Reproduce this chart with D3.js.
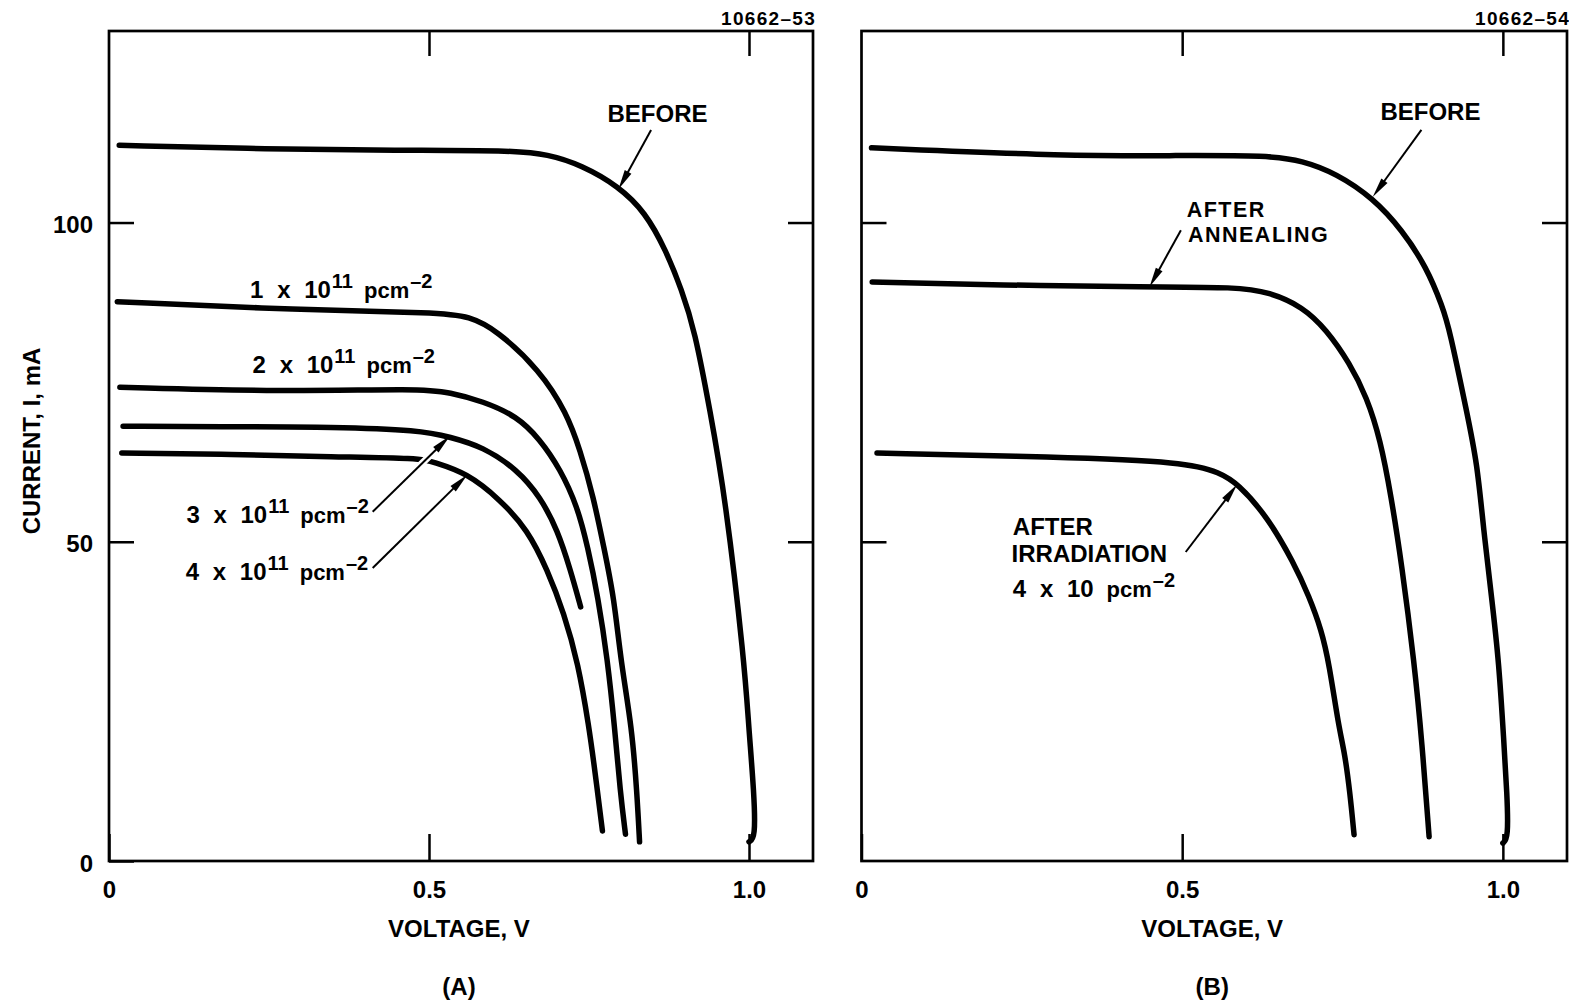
<!DOCTYPE html>
<html>
<head>
<meta charset="utf-8">
<script src="https://cdn.jsdelivr.net/npm/d3@7"></script>
<style>
  body { margin: 0; background: #fff; }
  svg text { font-family: "Liberation Sans", Arial, Helvetica, sans-serif; font-weight: bold; fill: #000; }
</style>
</head>
<body>
<svg id="chart" width="1569" height="1002"></svg>
<script>
// ---- Axes ----
const X_DOMAIN = [0, 1.1];          // voltage, V
const Y_DOMAIN = [0, 130];          // current, mA
const xTickValues = [0, 0.5, 1.0];
const yTickValues = [0, 50, 100];

// ---- Panel (A): I–V curves before and after proton fluences, [V, mA] ----
const curveBeforeA = [[0.016,112.1],[0.25,111.5],[0.45,111.3],[0.628,111.3],[0.686,110.7],[0.738,109.0],[0.796,105.7],[0.838,101.6],[0.870,95.7],[0.895,89.4],[0.915,83.2],[0.939,70.6],[0.963,57.0],[0.993,31.0],[0.9995,21.0],[1.008,10.6],[1.010,3.6],[1.0,3.0]];
const curveDose1 = [[0.013,87.6],[0.297,86.3],[0.516,85.9],[0.563,85.3],[0.605,83.2],[0.673,76.9],[0.715,70.2],[0.736,64.4],[0.757,57.0],[0.773,49.2],[0.789,41.4],[0.800,31.0],[0.817,21.0],[0.825,10.6],[0.829,3.0]];
const curveDose2 = [[0.017,74.2],[0.271,73.5],[0.486,74.0],[0.533,73.4],[0.584,72.0],[0.637,69.7],[0.673,66.1],[0.705,61.4],[0.732,55.5],[0.748,49.2],[0.764,41.4],[0.779,31.5],[0.790,21.0],[0.799,10.6],[0.807,4.2]];
const curveDose3 = [[0.022,68.1],[0.194,68.0],[0.350,68.0],[0.486,67.5],[0.533,66.4],[0.584,64.9],[0.638,61.3],[0.674,57.0],[0.701,51.8],[0.721,45.6],[0.737,39.8]];
const curveDose4 = [[0.020,63.9],[0.194,63.7],[0.350,63.3],[0.486,63.1],[0.506,62.5],[0.559,60.8],[0.611,56.6],[0.654,51.9],[0.685,45.6],[0.711,38.8],[0.733,31.0],[0.750,21.0],[0.759,14.3],[0.771,4.7]];

// ---- Panel (B): before, after irradiation, after annealing, [V, mA] ----
const curveBeforeB = [[0.0156,111.7],[0.323,110.4],[0.4945,110.5],[0.635,110.5],[0.687,109.7],[0.740,107.7],[0.798,103.8],[0.843,98.8],[0.881,93.0],[0.906,86.8],[0.917,83.2],[0.944,70.2],[0.960,62.3],[0.970,51.8],[0.9825,41.3],[0.994,31.0],[1.0016,18.5],[1.0065,10.6],[1.0086,3.6],[1.0,2.8]];
const curveAnnealed = [[0.0167,90.7],[0.215,90.2],[0.449,89.9],[0.585,89.9],[0.636,89.1],[0.688,86.8],[0.725,83.2],[0.761,78.0],[0.788,72.6],[0.809,66.0],[0.826,57.0],[0.842,46.7],[0.862,31.0],[0.874,18.5],[0.885,3.8]];
const curveIrradiated = [[0.0242,63.9],[0.299,63.3],[0.508,62.5],[0.559,60.8],[0.586,59.2],[0.633,53.9],[0.674,46.7],[0.698,41.4],[0.717,36.2],[0.729,31.0],[0.744,21.0],[0.7535,16.9],[0.7617,10.6],[0.768,4.1]];

// ---- Annotations: leader arrows [from, to] and label anchors, in [V, mA] ----
const arrowsA = [
  [[0.847,114.5],[0.796,105.2]],
  [[0.412,54.7],[0.533,66.6]],
  [[0.412,45.9],[0.560,60.5]]
];
const arrowsB = [
  [[0.873,114.5],[0.797,104.0]],
  [[0.498,98.8],[0.449,89.9]],
  [[0.5055,48.4],[0.586,59.0]]
];
const plainLabelsA = [
  {text: "BEFORE", at: [0.857,115.7], anchor: "middle", size: 24, spacing: 0}
];
const plainLabelsB = [
  {text: "BEFORE", at: [0.887,116.1], anchor: "middle", size: 24, spacing: 0},
  {text: "AFTER", at: [0.507,100.9], anchor: "start", size: 21.5, spacing: 1.5},
  {text: "ANNEALING", at: [0.509,97.0], anchor: "start", size: 21.5, spacing: 1.5},
  {text: "AFTER", at: [0.236,51.1], anchor: "start", size: 24, spacing: 0},
  {text: "IRRADIATION", at: [0.234,46.8], anchor: "start", size: 24, spacing: 0}
];
const doseLabelsA = [
  {mant: "1 x 10", exp: "11", at: [0.2205,88.2]},
  {mant: "2 x 10", exp: "11", at: [0.2244,76.4]},
  {mant: "3 x 10", exp: "11", at: [0.121,52.9]},
  {mant: "4 x 10", exp: "11", at: [0.120,44.0]}
];
const doseLabelsB = [
  {mant: "4 x 10", exp: "", at: [0.236,41.3]}
];

const figureIds = ["10662\u201353", "10662\u201354"];
const panelTags = ["(A)", "(B)"];
const xTitle = "VOLTAGE, V";
const yTitle = "CURRENT, I, mA";

const FONT = '"Liberation Sans", Arial, Helvetica, sans-serif';
const svg = d3.select("#chart");

const panels = [
  {left: 109, right: 813, top: 31, bottom: 861, yLabels: true,
   curves: [curveBeforeA, curveDose1, curveDose2, curveDose3, curveDose4],
   arrows: arrowsA, labels: plainLabelsA, doses: doseLabelsA,
   id: figureIds[0], tag: panelTags[0]},
  {left: 861.5, right: 1567, top: 31, bottom: 861, yLabels: false,
   curves: [curveBeforeB, curveAnnealed, curveIrradiated],
   arrows: arrowsB, labels: plainLabelsB, doses: doseLabelsB,
   id: figureIds[1], tag: panelTags[1]}
];

function styleAxis(sel) {
  sel.attr("font-family", FONT).attr("font-size", 24).attr("font-weight", "bold");
  sel.select(".domain").remove();
  sel.selectAll(".tick line").attr("stroke", "#000").attr("stroke-width", 2.5);
  sel.selectAll(".tick text").attr("fill", "#000");
}

const fmtV = d => d === 0 ? "0" : d3.format(".1f")(d);

function drawArrow(g, p1, p2, layer) {
  const dx = p2[0] - p1[0], dy = p2[1] - p1[1];
  const L = Math.hypot(dx, dy), ux = dx / L, uy = dy / L;
  const hl = 20, hw = 3.8;
  const bx = p2[0] - ux * hl, by = p2[1] - uy * hl;
  if (layer === "halo") {
    g.append("line").attr("x1", p1[0]).attr("y1", p1[1]).attr("x2", bx).attr("y2", by)
      .attr("stroke", "#fff").attr("stroke-width", 7);
    return;
  }
  g.append("line").attr("x1", p1[0]).attr("y1", p1[1]).attr("x2", bx + ux * 3).attr("y2", by + uy * 3)
    .attr("stroke", "#000").attr("stroke-width", 2);
  g.append("path")
    .attr("d", `M${p2[0]},${p2[1]}L${bx - uy * hw},${by + ux * hw}L${bx + uy * hw},${by - ux * hw}Z`)
    .attr("fill", "#000");
}

panels.forEach(p => {
  const x = d3.scaleLinear().domain(X_DOMAIN).range([p.left, p.right]);
  const y = d3.scaleLinear().domain(Y_DOMAIN).range([p.bottom, p.top]);
  const g = svg.append("g");

  // frame
  g.append("rect").attr("x", p.left).attr("y", p.top)
    .attr("width", p.right - p.left).attr("height", p.bottom - p.top)
    .attr("fill", "none").attr("stroke", "#000").attr("stroke-width", 2.7);

  // inward ticks on all four sides
  g.append("g").attr("transform", `translate(0,${p.bottom})`)
    .call(d3.axisBottom(x).tickValues(xTickValues).tickSize(-27).tickSizeOuter(0).tickPadding(20).tickFormat(fmtV))
    .call(styleAxis);
  g.append("g").attr("transform", `translate(0,${p.top})`)
    .call(d3.axisTop(x).tickValues(xTickValues.filter(v => v > 0)).tickSize(-25).tickSizeOuter(0).tickFormat(""))
    .call(styleAxis);
  const leftAxis = g.append("g").attr("transform", `translate(${p.left},0)`)
    .call(d3.axisLeft(y).tickValues(p.yLabels ? yTickValues : yTickValues.filter(v => v > 0))
      .tickSize(-25).tickSizeOuter(0).tickPadding(16).tickFormat(p.yLabels ? d3.format("d") : ""))
    .call(styleAxis);
  leftAxis.selectAll(".tick text").attr("dy", "0.42em");
  g.append("g").attr("transform", `translate(${p.right},0)`)
    .call(d3.axisRight(y).tickValues(yTickValues.filter(v => v > 0)).tickSize(-25).tickSizeOuter(0).tickFormat(""))
    .call(styleAxis);

  // I–V curves (smooth B-spline through the read points)
  const line = d3.line().x(d => x(d[0])).y(d => y(d[1])).curve(d3.curveBasis);
  g.selectAll("path.iv").data(p.curves).join("path").attr("class", "iv")
    .attr("d", line).attr("fill", "none").attr("stroke", "#000")
    .attr("stroke-width", 5.5).attr("stroke-linecap", "round").attr("stroke-linejoin", "round");

  // leader arrows (white halo first so crossings break the curve beneath)
  const arrowPts = p.arrows.map(a => [[x(a[0][0]), y(a[0][1])], [x(a[1][0]), y(a[1][1])]]);
  arrowPts.forEach(a => drawArrow(g, a[0], a[1], "halo"));
  arrowPts.forEach(a => drawArrow(g, a[0], a[1], "ink"));

  // text labels
  p.labels.forEach(l => {
    g.append("text").attr("x", x(l.at[0])).attr("y", y(l.at[1]))
      .attr("text-anchor", l.anchor).attr("font-size", l.size)
      .attr("letter-spacing", l.spacing).text(l.text);
  });

  // fluence labels: "n x 10^exp pcm^-2"
  p.doses.forEach(d => {
    const t = g.append("text").attr("x", x(d.at[0])).attr("y", y(d.at[1]))
      .attr("font-size", 24).style("white-space", "pre");
    t.append("tspan").attr("word-spacing", 7).text(d.mant);
    let shift = 0;
    if (d.exp) {
      t.append("tspan").attr("font-size", 20).attr("dx", 1).attr("dy", -10).text(d.exp);
      shift = 10;
    }
    t.append("tspan").attr("font-size", 22).attr("dx", d.exp ? 11 : 13).attr("dy", shift).text("pcm");
    t.append("tspan").attr("font-size", 20).attr("dx", 1).attr("dy", -10).text("\u20132");
  });

  // axis title, panel tag and figure number
  const cx = (p.left + p.right) / 2 - 2;
  g.append("text").attr("x", cx).attr("y", 937).attr("text-anchor", "middle")
    .attr("font-size", 24).text(xTitle);
  g.append("text").attr("x", cx).attr("y", 995).attr("text-anchor", "middle")
    .attr("font-size", 24).text(p.tag);
  g.append("text").attr("x", p.right + 3).attr("y", 25).attr("text-anchor", "end")
    .attr("font-size", 19).attr("letter-spacing", 1.3).text(p.id);
});

// y-axis title
svg.append("text").attr("transform", "translate(40,441) rotate(-90)")
  .attr("text-anchor", "middle").attr("font-size", 24).text(yTitle);
</script>
</body>
</html>
